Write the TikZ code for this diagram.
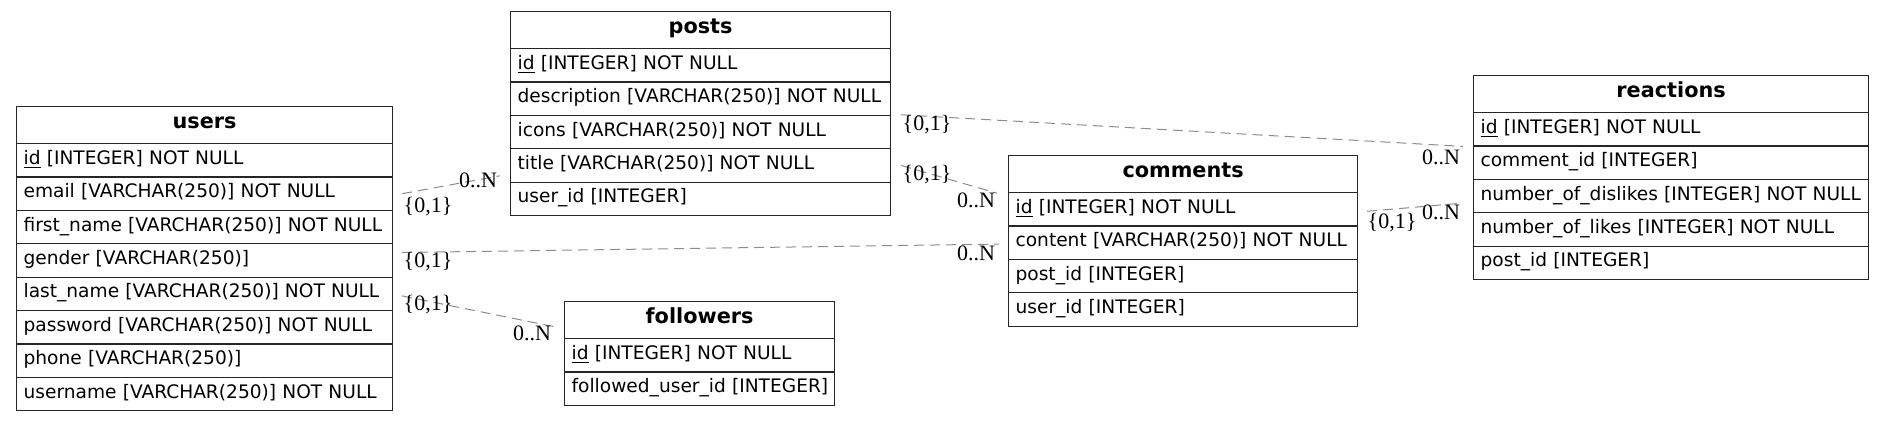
\documentclass[tikz,border=0pt]{standalone}
\usepackage{fontspec}
\setmainfont{DejaVu Sans}
\newfontfamily\cardfont{Liberation Serif}
\usetikzlibrary{calc, positioning}

\tikzset{
  tblhead/.style={draw=black!85, line width=0.6pt, anchor=north west, minimum height=18.5pt,
    inner sep=0pt, text height=6pt, text depth=2.5pt, font=\fontsize{10.4}{12}\selectfont\bfseries},
  tblrow/.style={draw=black!85, line width=0.6pt, anchor=north west, minimum height=16.7pt,
    inner xsep=3.5pt, inner ysep=0pt, align=left, text height=6.5pt, text depth=2.5pt,
    font=\fontsize{9.3}{11}\selectfont},
  card/.style={inner sep=0pt, font=\fontsize{11}{13}\selectfont\cardfont},
  rel/.style={draw=black!45, line width=0.5pt, dash pattern=on 5pt off 3pt}
}

\begin{document}
\begin{tikzpicture}[x=0.5pt, y=-0.5pt]
\path[fill=white] (0,0) rectangle (1884,421);

% users
\node[tblhead, minimum width=188pt] (users) at (16,106) {users};
\foreach \txt [count=\i] in {\underline{id} [INTEGER] NOT NULL, email [VARCHAR(250)] NOT NULL,
    first\_name [VARCHAR(250)] NOT NULL, gender [VARCHAR(250)], last\_name [VARCHAR(250)] NOT NULL,
    password [VARCHAR(250)] NOT NULL, phone [VARCHAR(250)], username [VARCHAR(250)] NOT NULL} {
  \node[tblrow, text width=181pt] (users-\i) at (16,{143+(\i-1)*33.4}) {\mbox{\txt}};
}

% posts
\node[tblhead, minimum width=190pt] (posts) at (510,11) {posts};
\foreach \txt [count=\i] in {\underline{id} [INTEGER] NOT NULL, description [VARCHAR(250)] NOT NULL,
    icons [VARCHAR(250)] NOT NULL, title [VARCHAR(250)] NOT NULL, user\_id [INTEGER]} {
  \node[tblrow, text width=183pt] (posts-\i) at (510,{48+(\i-1)*33.4}) {\mbox{\txt}};
}

% followers
\node[tblhead, minimum width=135pt] (followers) at (564,301) {followers};
\foreach \txt [count=\i] in {\underline{id} [INTEGER] NOT NULL, followed\_user\_id [INTEGER]} {
  \node[tblrow, text width=128pt] (followers-\i) at (564,{338+(\i-1)*33.4}) {\mbox{\txt}};
}

% comments
\node[tblhead, minimum width=174.5pt] (comments) at (1008,155) {comments};
\foreach \txt [count=\i] in {\underline{id} [INTEGER] NOT NULL, content [VARCHAR(250)] NOT NULL,
    post\_id [INTEGER], user\_id [INTEGER]} {
  \node[tblrow, text width=167.5pt] (comments-\i) at (1008,{192+(\i-1)*33.4}) {\mbox{\txt}};
}

% reactions
\node[tblhead, minimum width=197.5pt] (reactions) at (1473,75) {reactions};
\foreach \txt [count=\i] in {\underline{id} [INTEGER] NOT NULL, comment\_id [INTEGER],
    number\_of\_dislikes [INTEGER] NOT NULL, number\_of\_likes [INTEGER] NOT NULL, post\_id [INTEGER]} {
  \node[tblrow, text width=190.5pt] (reactions-\i) at (1473,{112+(\i-1)*33.4}) {\mbox{\txt}};
}

% Relations
\draw[rel] ($(users-2.east)+(9,0)$) -- ($(posts-4.south west)+(-10,-7)$);
\draw[rel] ($(users-4.east)+(9,-8)$) -- ($(comments-2.west)+(-9,1.4)$);
\draw[rel] ($(users-5.east)+(9,2)$) -- ($(followers.west)+(-10,6.5)$);
\draw[rel] ($(posts-4.east)+(10,0)$) -- ($(comments.south west)+(-11,0)$);
\draw[rel] ($(posts-3.north east)+(10,0)$) -- ($(reactions-2.north west)+(-10,1)$);
\draw[rel] ($(comments-1.east)+(9,2)$) -- ($(reactions-3.west)+(-10,7)$);

% Cardinalities
\node[card] (c1a) at (428,207) {\{0,1\}};
\node[card] (c1b) at (478,180) {0..N};
\node[card] (c2a) at (428,262) {\{0,1\}};
\node[card] (c2b) at (976,253) {0..N};
\node[card] (c3a) at (428,305) {\{0,1\}};
\node[card] (c3b) at (532,333) {0..N};
\node[card] (c4a) at (927,175) {\{0,1\}};
\node[card] (c4b) at (976,200) {0..N};
\node[card] (c5a) at (927,125) {\{0,1\}};
\node[card] (c5b) at (1441,157) {0..N};
\node[card] (c6a) at (1392,223) {\{0,1\}};
\node[card] (c6b) at (1441,212) {0..N};
\end{tikzpicture}
\end{document}
